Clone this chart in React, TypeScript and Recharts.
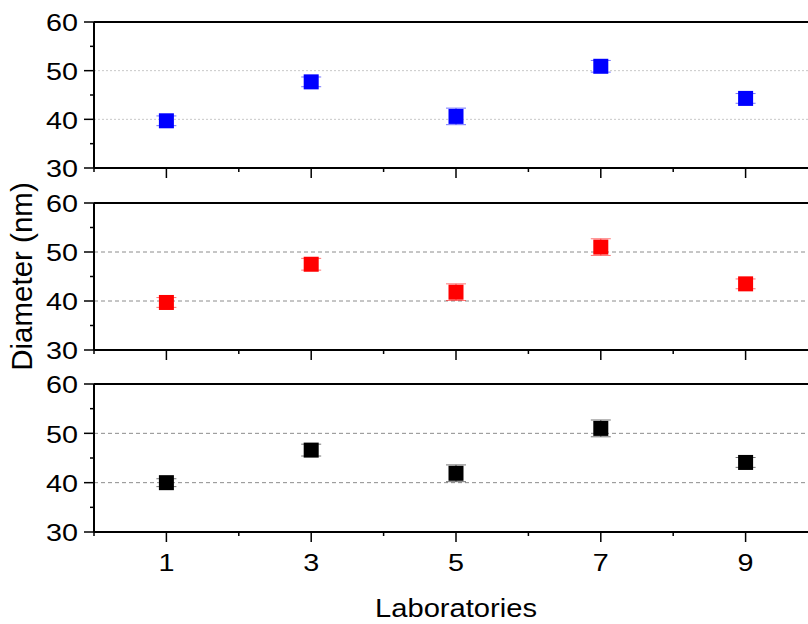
import { ScatterChart, Scatter, XAxis, YAxis, ReferenceLine, ErrorBar, Label } from 'recharts'

const labs = [1, 3, 5, 7, 9]
const blueDiam = [39.7, 47.7, 40.6, 50.9, 44.3]
const blueErr = [1.0, 1.0, 1.7, 1.2, 1.0]
const redDiam = [39.7, 47.5, 41.8, 51.0, 43.5]
const redErr = [1.0, 1.2, 1.7, 1.7, 1.0]
const blackDiam = [40.0, 46.6, 41.9, 51.0, 44.1]
const blackErr = [0.8, 1.2, 1.7, 1.7, 1.0]

const xTicks = [0, 1, 2, 3, 4, 5, 6, 7, 8, 9, 10]
const yTicks = [30, 35, 40, 45, 50, 55, 60]
const gridValues = [40, 50]

const FONT = '"Liberation Sans", Arial, sans-serif'
const STRETCH = 1.25
const PAD = 30

const toRows = (ys: number[], errs: number[]) => labs.map((lab, i) => ({ lab, d: ys[i], err: errs[i] }))

function LeftTick({ x, y, payload }: any) {
  const major = payload.value % 10 === 0
  return (
    <g>
      <line x1={x} x2={x - (major ? 10 : 4)} y1={y} y2={y} stroke="#000" strokeWidth={1.5} />
      {major && (
        <text transform={`translate(${x - 16},${y}) scale(${STRETCH},1)`} dy="0.4em" textAnchor="end"
          fontSize={23} fontFamily={FONT} fill="#000">
          {payload.value}
        </text>
      )}
    </g>
  )
}

function makeBottomTick(showLabels: boolean) {
  return function BottomTick({ x, y, payload }: any) {
    const major = payload.value % 2 === 1
    return (
      <g>
        <line x1={x} x2={x} y1={y} y2={y + (major ? 10 : 4)} stroke="#000" strokeWidth={1.5} />
        {showLabels && major && (
          <text transform={`translate(${x},${y + 39}) scale(${STRETCH},1)`} textAnchor="middle"
            fontSize={23} fontFamily={FONT} fill="#000">
            {payload.value}
          </text>
        )}
      </g>
    )
  }
}

function TopTick({ x, y, payload }: any) {
  const major = payload.value % 2 === 1
  return <line x1={x} x2={x} y1={y} y2={y + (major ? 9 : 3)} stroke="#000" strokeWidth={1.5} />
}

function Square({ cx, cy, fill }: any) {
  return <rect x={cx - 7.5} y={cy - 7.5} width={15} height={15} fill={fill} />
}

const axisLine = { stroke: '#000', strokeWidth: 2 }

type PanelProps = {
  rows: { lab: number; d: number; err: number }[]
  color: string
  top: number
  plotHeight: number
  bottom: number
  grid: { stroke: string; dash: string }
  showXLabels?: boolean
  yTitle?: boolean
}

function Panel({ rows, color, top, plotHeight, bottom, grid, showXLabels, yTitle }: PanelProps) {
  const height = PAD + plotHeight + bottom
  return (
    <div style={{ position: 'absolute', left: 0, top: top - PAD }}>
      <ScatterChart width={828} height={height} margin={{ top: PAD - 1, right: 10, bottom: bottom - 1, left: 34 }}>
        <XAxis xAxisId="top" orientation="top" type="number" dataKey="lab" domain={[0, 10]} ticks={xTicks}
          interval={0} height={1} tickSize={0} tickMargin={0} tickLine={false} axisLine={axisLine} tick={<TopTick />} />
        <XAxis type="number" dataKey="lab" domain={[0, 10]} ticks={xTicks} interval={0} height={1}
          tickSize={0} tickMargin={0} tickLine={false} axisLine={axisLine} tick={makeBottomTick(!!showXLabels)}>
          {showXLabels && (
            <Label content={({ viewBox }: any) => (
              <text transform={`translate(${viewBox.x + 362},${viewBox.y + 85}) scale(1.1,1)`} textAnchor="middle"
                fontSize={26.5} fontFamily={FONT} fill="#000">Laboratories</text>
            )} />
          )}
        </XAxis>
        <YAxis type="number" dataKey="d" domain={[30, 60]} ticks={yTicks} interval={0} width={60}
          tickSize={0} tickMargin={0} tickLine={false} axisLine={axisLine} tick={<LeftTick />}>
          {yTitle && (
            <Label content={({ viewBox }: any) => {
              const cx = viewBox.x - 2
              const cy = viewBox.y + viewBox.height / 2
              return (
                <text x={cx} y={cy} transform={`rotate(-90,${cx},${cy})`} textAnchor="middle"
                  fontSize={29.5} fontFamily={FONT} fill="#000">Diameter (nm)</text>
              )
            }} />
          )}
        </YAxis>
        {gridValues.map((v) => (
          <ReferenceLine key={v} y={v} stroke={grid.stroke} strokeDasharray={grid.dash} strokeWidth={1} />
        ))}
        <Scatter data={rows} fill={color} shape={<Square />} isAnimationActive={false}>
          <ErrorBar dataKey="err" direction="y" width={10} stroke={color} strokeOpacity={0.55} strokeWidth={1}
            isAnimationActive={false} />
        </Scatter>
      </ScatterChart>
    </div>
  )
}

export default function App() {
  return (
    <div style={{ position: 'absolute', left: 0, top: 0, width: 808, height: 624, overflow: 'hidden', background: '#fff' }}>
      <style>{'.recharts-surface { overflow: visible; }'}</style>
      <Panel rows={toRows(blueDiam, blueErr)} color="#0000ff" top={22} plotHeight={146} bottom={12}
        grid={{ stroke: '#c8c8c8', dash: '2 2' }} />
      <Panel rows={toRows(redDiam, redErr)} color="#ff0000" top={203} plotHeight={147} bottom={12}
        grid={{ stroke: '#8c8c8c', dash: '4 3' }} yTitle />
      <Panel rows={toRows(blackDiam, blackErr)} color="#000000" top={384} plotHeight={148} bottom={92}
        grid={{ stroke: '#8c8c8c', dash: '4 3' }} showXLabels />
    </div>
  )
}
